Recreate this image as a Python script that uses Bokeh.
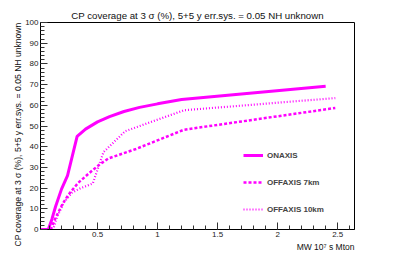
from bokeh.plotting import figure
from bokeh.models import (Range1d, SingleIntervalTicker, Title, Legend, LegendItem)
from bokeh.embed import file_html
from bokeh.resources import INLINE

# ---- data ----
on_x = [0.025, 0.09, 0.12, 0.15, 0.20, 0.25, 0.33, 0.40, 0.50, 0.60, 0.72, 0.85, 1.00, 1.20, 2.40]
on_y = [0, 0, 5, 11, 19.5, 26, 45, 48.5, 52, 54.5, 57, 59, 60.7, 62.8, 69.2]

off7_x = [0.025, 0.11, 0.15, 0.21, 0.26, 0.34, 0.43, 0.51, 0.59, 0.82, 1.22, 2.48]
off7_y = [0, 0, 5.6, 12.5, 17, 22.6, 27.2, 31.1, 34.3, 38.9, 48.2, 58.7]

off10_x = [0.025, 0.13, 0.16, 0.22, 0.29, 0.36, 0.46, 0.55, 0.73, 1.22, 2.48]
off10_y = [0, 0, 5.5, 13.2, 17.9, 20, 22.2, 37.4, 47.5, 57.6, 63.5]

series_names = ["ONAXIS", "OFFAXIS 7km", "OFFAXIS 10km"]
title_text = "CP coverage at 3 \u03c3 (%), 5+5 y err.sys. = 0.05 NH unknown"
ylabel_text = "CP coverage at 3 \u03c3 (%), 5+5 y err.sys. = 0.05 NH unknown"
xlabel_text = "MW 10\u2077 s Mton"

FONT = "Liberation Sans"
MAG = "#ff00ff"

p = figure(width=378, height=251, output_backend="svg", toolbar_location=None,
           x_range=Range1d(0.025, 2.64), y_range=Range1d(0, 100),
           min_border_left=40, min_border_right=24, min_border_top=22, min_border_bottom=19)
p.xgrid.visible = False
p.ygrid.visible = False
p.outline_line_color = "black"
p.outline_line_alpha = 1.0
p.outline_line_width = 1
p.background_fill_color = "white"
p.border_fill_color = "white"

p.title.text = title_text
p.title.align = "center"
p.title.vertical_align = "top"
p.title.text_font = FONT
p.title.text_font_size = "9.7px"
p.title.text_font_style = "normal"
p.title.text_color = "#111111"
p.title.standoff = 0

for ax in (p.xaxis[0], p.yaxis[0]):
    ax.major_tick_in = 7
    ax.major_tick_out = 0
    ax.minor_tick_in = 4
    ax.minor_tick_out = 0
    ax.major_label_text_font = FONT
    ax.major_label_text_font_size = "8px"
    ax.major_label_text_color = "#222222"
    ax.axis_line_color = "black"
    ax.major_tick_line_color = "#333333"
    ax.minor_tick_line_color = "#333333"
    ax.major_label_standoff = 2

p.xaxis[0].ticker = SingleIntervalTicker(interval=0.5, num_minor_ticks=5)
p.yaxis[0].ticker = SingleIntervalTicker(interval=10, num_minor_ticks=5)
p.xaxis[0].major_label_overrides = {0.5: "0.5", 1: "1", 1.5: "1.5", 2: "2", 2.5: "2.5"}

r_on = p.line(on_x, on_y, line_color=MAG, line_width=3)
r_7 = p.line(off7_x, off7_y, line_color=MAG, line_width=2.5, line_dash="3 2")
r_10 = p.line(off10_x, off10_y, line_color=MAG, line_width=2.2, line_dash="1 2")

legend = Legend(items=[LegendItem(label=series_names[0], renderers=[r_on]),
                       LegendItem(label=series_names[1], renderers=[r_7]),
                       LegendItem(label=series_names[2], renderers=[r_10])],
                location=(203, 10), orientation="vertical",
                glyph_width=20, glyph_height=20, label_height=20, spacing=7,
                padding=0, margin=0, label_standoff=4,
                border_line_alpha=0, background_fill_alpha=0,
                label_text_font=FONT, label_text_font_size="8px",
                label_text_font_style="bold")
p.add_layout(legend, "center")

p.add_layout(Title(text=ylabel_text, align="right", text_font=FONT,
                   text_font_size="8.6px", text_font_style="normal",
                   text_color="#111111", standoff=0), "left")
p.add_layout(Title(text=xlabel_text, align="right", text_font=FONT,
                   text_font_size="8.5px", text_font_style="normal",
                   text_color="#111111", standoff=0), "below")

open("out.html", "w").write(file_html(p, INLINE))
